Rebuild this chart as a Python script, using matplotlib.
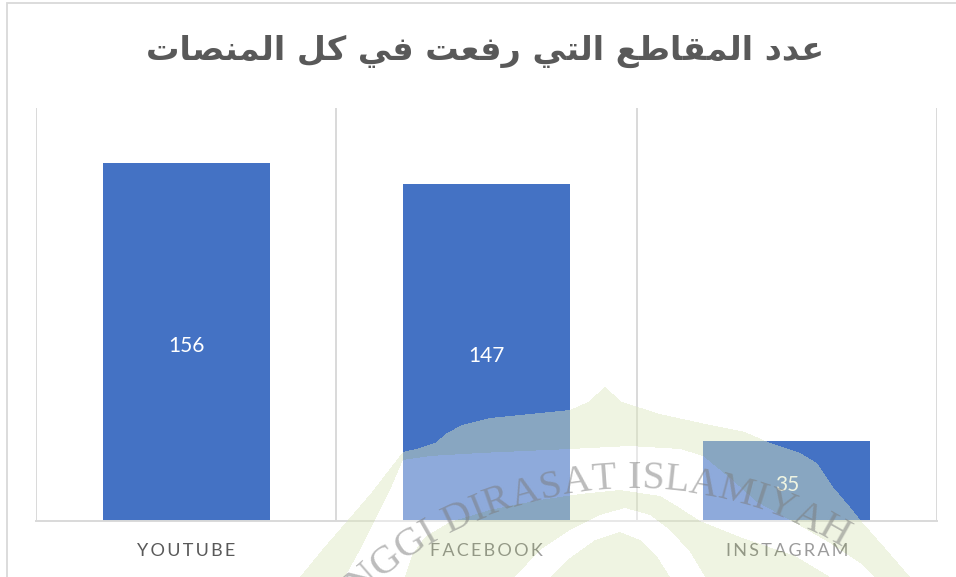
import numpy as np
import matplotlib
matplotlib.use('Agg')
import matplotlib.pyplot as plt
from matplotlib.path import Path
from matplotlib.patches import Rectangle
from matplotlib.transforms import offset_copy

# data
platforms = ['YOUTUBE', 'FACEBOOK', 'INSTAGRAM']
videos = [156, 147, 35]
title = 'عدد المقاطع التي رفعت في كل المنصات'

W, H = 956, 577
BAR_COLOR = '#4472C4'
GRID = '#D9D9D9'
TEXT_GREY = '#595959'

# matplotlib has no arabic shaping, so pick presentation forms by hand
FORMS = {
    'ا': (0xFE8D, 0xFE8E, None, None),
    'د': (0xFEA9, 0xFEAA, None, None),
    'ر': (0xFEAD, 0xFEAE, None, None),
    'ت': (0xFE95, 0xFE96, 0xFE97, 0xFE98),
    'ص': (0xFEB9, 0xFEBA, 0xFEBB, 0xFEBC),
    'ط': (0xFEC1, 0xFEC2, 0xFEC3, 0xFEC4),
    'ع': (0xFEC9, 0xFECA, 0xFECB, 0xFECC),
    'ف': (0xFED1, 0xFED2, 0xFED3, 0xFED4),
    'ق': (0xFED5, 0xFED6, 0xFED7, 0xFED8),
    'ك': (0xFED9, 0xFEDA, 0xFEDB, 0xFEDC),
    'ل': (0xFEDD, 0xFEDE, 0xFEDF, 0xFEE0),
    'م': (0xFEE1, 0xFEE2, 0xFEE3, 0xFEE4),
    'ن': (0xFEE5, 0xFEE6, 0xFEE7, 0xFEE8),
    'ي': (0xFEF1, 0xFEF2, 0xFEF3, 0xFEF4),
}


def shape_arabic(text):
    out = []
    for i, ch in enumerate(text):
        if ch not in FORMS:
            out.append(ch)
            continue
        prev = text[i - 1] if i > 0 else ''
        nxt = text[i + 1] if i + 1 < len(text) else ''
        join_prev = prev in FORMS and FORMS[prev][2] is not None
        join_next = FORMS[ch][2] is not None and nxt in FORMS
        iso, fin, ini, med = FORMS[ch]
        if join_prev and join_next:
            out.append(chr(med))
        elif join_next:
            out.append(chr(ini))
        elif join_prev:
            out.append(chr(fin))
        else:
            out.append(chr(iso))
    return ''.join(out)[::-1]


def spaced(s):
    return '\u2009'.join(s)


fig = plt.figure(figsize=(W / 100, H / 100), dpi=100)

# outer chart border (only left and top are visible in the picture)
fig.patches.append(Rectangle((7 / W, -0.1), 1.2, (H - 3) / H + 0.1, transform=fig.transFigure,
                             fill=False, edgecolor=GRID, lw=1.3))

fig.text(485 / W, 1 - 51 / H, shape_arabic(title), ha='center', va='center',
         fontsize=24, fontweight='bold', color=TEXT_GREY, family=['DejaVu Sans'])

ax = fig.add_axes([36 / W, 56 / H, 901 / W, 413 / H])
x = np.arange(len(platforms))
bars = ax.bar(x, videos, width=0.557, color=BAR_COLOR, zorder=2)
ax.set_xlim(-0.5, len(platforms) - 0.5)
ax.set_ylim(0, 180)
for g in np.arange(-0.5, len(platforms), 1.0):
    ax.axvline(g, color=GRID, lw=1.4, zorder=1)
for s in ['top', 'left', 'right']:
    ax.spines[s].set_visible(False)
ax.spines['bottom'].set_color(GRID)
ax.spines['bottom'].set_linewidth(1.4)
ax.set_yticks([])
ax.set_xticks(x, [spaced(p) for p in platforms])
ax.tick_params(axis='x', length=0, pad=15.5, labelsize=13, labelcolor=TEXT_GREY)
for lab in ax.get_xticklabels():
    lab.set_family(['Lato', 'DejaVu Sans'])
lab_tr = offset_copy(ax.transData, fig=fig, y=-4, units='dots')
for xi, v in zip(x, videos):
    ax.text(xi, v / 2, str(v), ha='center', va='center', color='white', transform=lab_tr,
            fontsize=15, family=['Lato', 'DejaVu Sans'], zorder=3)

# watermark of the scanned page: nested dome shapes + curved text
wax = fig.add_axes([0, 0, 1, 1])
wax.set_xlim(0, W)
wax.set_ylim(H, 0)
wax.axis('off')

domes = [
    [(300, 577), (322, 550), (348, 520), (372, 492), (392, 466), (403, 452), (420, 448), (435, 443),
     (447, 433), (462, 425), (490, 418), (530, 414), (570, 410), (588, 402), (605, 387), (622, 402),
     (660, 414), (710, 425), (745, 432), (770, 443), (800, 453), (817, 463), (833, 487), (850, 507),
     (862, 522), (885, 548), (910, 577)],
    [(345, 577), (360, 550), (375, 520), (390, 490), (403, 460), (430, 456), (480, 453), (570, 449),
     (630, 446), (680, 449), (703, 456), (730, 478), (757, 502), (790, 520), (830, 543), (860, 563),
     (875, 577)],
    [(405, 577), (412, 555), (425, 537), (450, 522), (490, 510), (540, 500), (580, 494), (620, 490),
     (660, 496), (680, 508), (700, 521), (740, 537), (795, 556), (830, 577)],
    [(515, 577), (540, 550), (570, 530), (600, 515), (625, 508), (650, 515), (670, 530), (690, 552),
     (705, 577)],
    [(550, 577), (570, 558), (595, 540), (620, 532), (640, 540), (658, 558), (670, 577)],
]
yy, xx = np.mgrid[0:H, 0:W]
pts = np.column_stack([xx.ravel() + 0.5, yy.ravel() + 0.5])
level = np.zeros(len(pts), dtype=int)
for d in domes:
    poly = d + [(d[-1][0], H + 5), (d[0][0], H + 5)]
    level += Path(poly).contains_points(pts)
level = level.reshape(H, W)
rgba = np.zeros((H, W, 4))
tint = (level % 2 == 1)
band = (level > 0) & (level % 2 == 0)
rgba[tint] = [0.87, 0.91, 0.75, 0.45]
rgba[band] = [1.0, 1.0, 1.0, 0.40]
wax.imshow(rgba, extent=(0, W, H, 0), interpolation='bilinear', zorder=1)

wm_text = 'NGGI DIRASAT ISLAMIYAH'
em = {'T': .61, 'I': .33, 'N': .72, 'G': .72, ' ': .25, 'D': .72, 'R': .67, 'A': .72,
      'S': .56, 'L': .61, 'M': .89, 'Y': .72, 'H': .72}
fs_px = 40
cx, cy, r = 633, 889, 410
adv = np.array([em[c] * fs_px + 0.8 for c in wm_text])
centers = np.cumsum(adv) - adv / 2
gap = centers[wm_text.index(' ', 6)]
for c, s in zip(wm_text, centers - gap):
    if c == ' ':
        continue
    phi = np.radians(91.6) - s / r
    wax.text(cx + r * np.cos(phi), cy - r * np.sin(phi), c, rotation=np.degrees(phi) - 90,
             rotation_mode='anchor', ha='center', va='center', fontsize=fs_px * 0.72,
             family='Liberation Serif', color='#7a7a7a', alpha=0.5, zorder=2)

fig.savefig('out.png', dpi=100)
